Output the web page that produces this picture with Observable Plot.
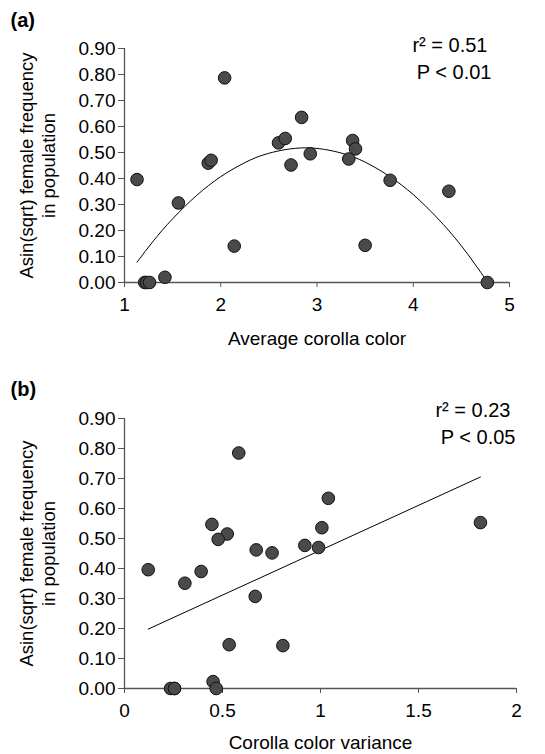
<!DOCTYPE html>
<html><head><meta charset="utf-8">
<script src="https://cdn.jsdelivr.net/npm/d3@7"></script>
<script src="https://cdn.jsdelivr.net/npm/@observablehq/plot@0.6"></script>
<style>body{margin:0;background:#fff} #chart{width:545px;height:754px} svg{display:block}</style>
</head><body><div id="chart"></div><script>
// Panel (a): average corolla color vs transformed female frequency
const colorA = [2.04, 2.84, 2.60, 2.67, 2.93, 2.73, 1.87, 1.90, 3.37, 3.40, 3.33, 1.13, 3.76, 4.37, 1.56, 2.14, 3.50, 1.42, 1.21, 1.23, 1.26, 4.77];
const freqA  = [0.787, 0.635, 0.537, 0.554, 0.495, 0.452, 0.459, 0.470, 0.546, 0.514, 0.475, 0.396, 0.393, 0.351, 0.306, 0.140, 0.143, 0.020, 0, 0, 0, 0];
// Quadratic fit curve
const fitAx = [1.13, 1.3, 1.5, 1.75, 2.0, 2.25, 2.5, 2.88, 3.25, 3.5, 3.75, 4.0, 4.25, 4.5, 4.77];
const fitAy = [0.078, 0.160, 0.245, 0.335, 0.407, 0.461, 0.497, 0.518, 0.498, 0.463, 0.409, 0.338, 0.248, 0.141, 0.003];
// Panel (b): corolla color variance vs transformed female frequency
const varB  = [0.583, 1.04, 0.446, 0.524, 0.478, 1.007, 1.816, 0.672, 0.753, 0.92, 0.99, 0.121, 0.391, 0.308, 0.667, 0.534, 0.808, 0.452, 0.468, 0.235, 0.255, 0.255];
const freqB = [0.785, 0.634, 0.547, 0.515, 0.497, 0.536, 0.553, 0.462, 0.452, 0.477, 0.470, 0.396, 0.390, 0.351, 0.307, 0.146, 0.143, 0.023, 0, 0, 0, 0];
const fitBx = [0.121, 1.816];
const fitBy = [0.198, 0.705];
// Ticks
const yTicks = [0, 0.1, 0.2, 0.3, 0.4, 0.5, 0.6, 0.7, 0.8, 0.9];
const xTicksA = [1, 2, 3, 4, 5];
const xTicksB = [0, 0.5, 1, 1.5, 2];
const yLabel = "Asin(sqrt) female frequency\nin population";

const FONT = "'Liberation Sans', Arial, Helvetica, sans-serif";
const AX = "#555";

function panel(o) {
  const pts = o.xs.map((x, i) => ({x, y: o.ys[i]}));
  const fit = o.fx.map((x, i) => ({x, y: o.fy[i]}));
  return Plot.plot({
    width: 545, height: 377,
    marginLeft: 124, marginRight: o.mr, marginTop: o.mt, marginBottom: o.mb,
    style: {fontFamily: FONT, fontSize: "19px", background: "white", color: "#000"},
    x: {domain: o.xdom},
    y: {domain: [0, 0.9]},
    marks: [
      Plot.ruleX([o.xdom[0]], {y1: 0, y2: 0.9, stroke: AX, strokeWidth: 1.3}),
      Plot.ruleY([0], {x1: o.xdom[0], x2: o.xdom[1], stroke: AX, strokeWidth: 1.3}),
      Plot.axisY({ticks: yTicks, tickFormat: d3.format(".2f"), tickSize: 6, tickPadding: 3, fontSize: 19, stroke: AX, label: null}),
      Plot.axisX({ticks: o.xticks, tickFormat: o.xfmt, tickSize: 5, tickPadding: 10, fontSize: 19, stroke: AX, label: null}),
      Plot.line(fit, {x: "x", y: "y", stroke: "#000", strokeWidth: 1, curve: "natural"}),
      Plot.dot(pts, {x: "x", y: "y", r: 6.3, fill: "#4a4a4a", stroke: "#111", strokeWidth: 1}),
      Plot.text([o.tag], {frameAnchor: "top-left", dx: -114, dy: o.tagDy, textAnchor: "start", lineAnchor: "middle", fontWeight: "bold", fontSize: 20}),
      Plot.text([o.r2], {frameAnchor: "top-right", dx: o.r2dx, dy: o.r2dy, textAnchor: "end", lineAnchor: "middle", fontSize: 20}),
      Plot.text([o.p], {frameAnchor: "top-right", dx: o.pdx, dy: o.r2dy + 27, textAnchor: "end", lineAnchor: "middle", fontSize: 20}),
      Plot.text([yLabel], {frameAnchor: "left", rotate: -90, dx: -88, textAnchor: "middle", lineAnchor: "middle", fontSize: 18.5, lineHeight: 1.2}),
      Plot.text([o.xlabel], {frameAnchor: "bottom", dy: o.xlDy, textAnchor: "middle", lineAnchor: "middle", fontSize: 19})
    ]
  });
}

const chart = document.getElementById("chart");
chart.append(panel({
  xs: colorA, ys: freqA, fx: fitAx, fy: fitAy,
  xdom: [1, 5], xticks: xTicksA, xfmt: d3.format("d"),
  mr: 36, mt: 48, mb: 95,
  tag: "(a)", tagDy: -28,
  r2: "r² = 0.51", p: "P < 0.01", r2dx: -22, pdx: -18, r2dy: -3,
  xlabel: "Average corolla color", xlDy: 56
}));
chart.append(panel({
  xs: varB, ys: freqB, fx: fitBx, fy: fitBy,
  xdom: [0, 2], xticks: xTicksB, xfmt: d => String(d),
  mr: 29, mt: 41, mb: 66,
  tag: "(b)", tagDy: -29,
  r2: "r² = 0.23", p: "P < 0.05", r2dx: -6, pdx: -1, r2dy: -8,
  xlabel: "Corolla color variance", xlDy: 54
}));
</script></body></html>
